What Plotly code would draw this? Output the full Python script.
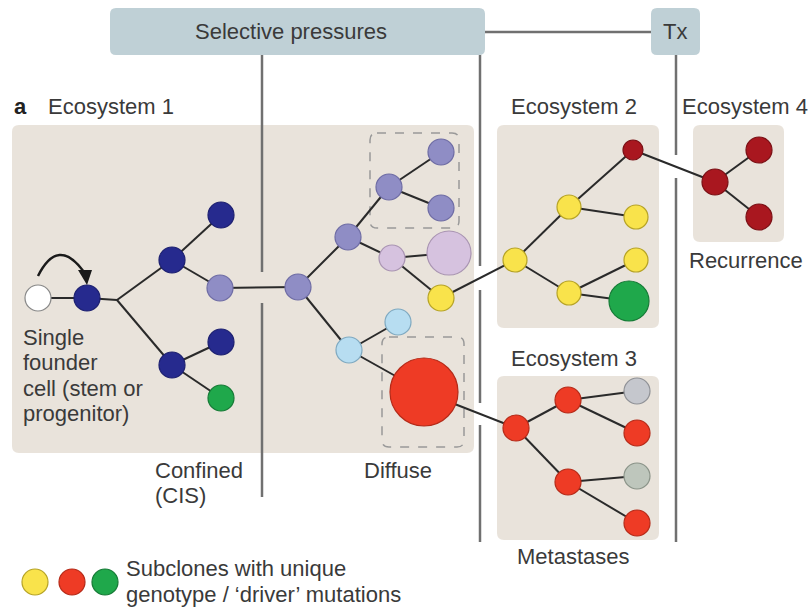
import plotly.graph_objects as go

# ---------------- data ----------------
# nodes: (x, y, radius, fill colour key)
node_x = [38, 87, 172, 221, 220, 172, 221, 221,
          298, 348, 389, 441, 441, 392, 449, 441, 349, 398, 424,
          515, 569, 636, 636, 569, 629, 633,
          715, 759, 759,
          516, 568, 637, 637, 568, 637, 637]
node_y = [298, 298, 260, 215, 288, 365, 342, 398,
          287, 237, 187, 152, 208, 258, 253, 298, 350, 322, 392,
          260, 207, 217, 260, 293, 301, 150,
          182, 150, 217,
          428, 400, 391, 433, 482, 476, 523]
node_r = [13, 13, 13, 13, 13, 13, 13, 13,
          13, 13, 13, 13, 13, 13, 22, 13, 13, 13, 34,
          12, 12, 12, 12, 12, 20, 10,
          13, 13, 13,
          13, 13, 13, 13, 13, 13, 13]
node_c = ["white", "navy", "navy", "navy", "purple", "navy", "navy", "green",
          "purple", "purple", "purple", "purple", "purple", "lilac", "lilac", "yellow", "lblue", "lblue", "red",
          "yellow", "yellow", "yellow", "yellow", "yellow", "green", "dred",
          "dred", "dred", "dred",
          "red", "red", "grey", "red", "red", "greygreen", "red"]

# edges as index pairs into node list
branch_pt = (117, 300)
edges = [(0, 1), (2, 3), (2, 4), (5, 6), (5, 7), (4, 8),
         (8, 9), (9, 10), (10, 11), (10, 12), (9, 13), (13, 14), (13, 15),
         (8, 16), (16, 17), (16, 18),
         (15, 19), (19, 20), (20, 25), (20, 21), (19, 23), (23, 22), (23, 24),
         (25, 26), (26, 27), (26, 28),
         (18, 29), (29, 30), (30, 31), (30, 32), (29, 33), (33, 34), (33, 35)]

colors = {"white": "#ffffff", "navy": "#262a8e", "purple": "#8f8dc5",
          "lilac": "#d6c2df", "yellow": "#f9e34b", "lblue": "#b7ddf1",
          "red": "#ee3b25", "dred": "#a9171f", "green": "#1fa84b",
          "grey": "#c5c7cd", "greygreen": "#bec6bc"}
outline = {"white": "#888888", "navy": "#1d2070", "purple": "#6e6ca4",
           "lilac": "#a994b2", "yellow": "#b6a326", "lblue": "#7fa9c0",
           "red": "#b52a18", "dred": "#7a1015", "green": "#167a36",
           "grey": "#8f9196", "greygreen": "#8a9388"}

legend_colors = ["yellow", "red", "green"]

# ---------------- figure ----------------
fig = go.Figure()

def rrect(x0, y0, x1, y1, r):
    return (f"M{x0+r},{y0} L{x1-r},{y0} Q{x1},{y0} {x1},{y0+r} "
            f"L{x1},{y1-r} Q{x1},{y1} {x1-r},{y1} L{x0+r},{y1} "
            f"Q{x0},{y1} {x0},{y1-r} L{x0},{y0+r} Q{x0},{y0} {x0+r},{y0} Z")

shapes = []
beige = "#e9e3db"
boxc = "#bfd0d6"
for (x0, y0, x1, y1) in [(12, 125, 474, 453), (497, 125, 659, 328),
                         (497, 376, 659, 540), (693, 125, 784, 242)]:
    shapes.append(dict(type="path", path=rrect(x0, y0, x1, y1, 7),
                       fillcolor=beige, line=dict(width=0), layer="below"))
for (x0, y0, x1, y1) in [(110, 8, 485, 55), (651, 8, 700, 55)]:
    shapes.append(dict(type="path", path=rrect(x0, y0, x1, y1, 6),
                       fillcolor=boxc, line=dict(width=0), layer="below"))
# dashed boxes
for (x0, y0, x1, y1) in [(370, 133, 459, 228), (382, 337, 464, 447)]:
    shapes.append(dict(type="path", path=rrect(x0, y0, x1, y1, 7),
                       fillcolor="rgba(0,0,0,0)",
                       line=dict(color="#999999", width=1.5, dash="dash"), layer="below"))
# grey timeline lines
gl = dict(color="#707070", width=2.5)
for seg in [(485, 32, 651, 32),
            (262, 55, 262, 272), (262, 303, 262, 497),
            (480, 55, 480, 266), (480, 290, 480, 403), (480, 425, 480, 542),
            (676, 55, 676, 155), (676, 178, 676, 542)]:
    shapes.append(dict(type="line", x0=seg[0], y0=seg[1], x1=seg[2], y1=seg[3],
                       line=gl, layer="below"))
# curved arrow
shapes.append(dict(type="path", path="M38,276 Q58,236 84,272",
                   line=dict(color="#1a1a1a", width=2.5)))
shapes.append(dict(type="path", path="M78,270 L92,270 L87,285 Z",
                   fillcolor="#1a1a1a", line=dict(width=0)))

# edges
ex, ey = [], []
for (a, b) in edges:
    ex += [node_x[a], node_x[b], None]
    ey += [node_y[a], node_y[b], None]
# founder -> branch point -> two daughters
ex += [node_x[1], branch_pt[0], None, branch_pt[0], node_x[2], None, branch_pt[0], node_x[5], None]
ey += [node_y[1], branch_pt[1], None, branch_pt[1], node_y[2], None, branch_pt[1], node_y[5], None]
fig.add_trace(go.Scatter(x=ex, y=ey, mode="lines",
                         line=dict(color="#2a2a2a", width=2), hoverinfo="skip"))

# nodes
fig.add_trace(go.Scatter(
    x=node_x, y=node_y, mode="markers",
    marker=dict(size=[2 * r for r in node_r], opacity=1,
                color=[colors[c] for c in node_c],
                line=dict(color=[outline[c] for c in node_c], width=1.2)),
    hoverinfo="skip"))

# legend circles
fig.add_trace(go.Scatter(
    x=[35, 72, 105], y=[582, 582, 582], mode="markers",
    marker=dict(size=26, opacity=1, color=[colors[c] for c in legend_colors],
                line=dict(color=[outline[c] for c in legend_colors], width=1.2)),
    hoverinfo="skip"))

FONT = "Liberation Sans, Arial, sans-serif"
tc = "#3a3a3a"

def txt(x, y, s, size=22, anchor="center", color=tc):
    fig.add_annotation(x=x, y=y, text=s, showarrow=False, xanchor=anchor,
                       yanchor="middle", font=dict(family=FONT, size=size, color=color))

txt(291, 31, "Selective pressures")
txt(675, 31, "Tx")
txt(12, 106, "<b>a</b>", anchor="left", color="#222")
txt(46, 106, "Ecosystem 1", anchor="left")
txt(574, 106, "Ecosystem 2")
txt(745, 106, "Ecosystem 4")
txt(746, 260, "Recurrence")
txt(574, 358, "Ecosystem 3")
txt(573, 556, "Metastases")
txt(153, 470, "Confined", anchor="left")
txt(153, 495, "(CIS)", anchor="left")
txt(398, 470, "Diffuse")
for i, s in enumerate(["Single", "founder", "cell (stem or", "progenitor)"]):
    txt(21, 337 + 25.5 * i, s, anchor="left")
txt(124, 568, "Subclones with unique", anchor="left")
txt(124, 594, "genotype / \u2018driver\u2019 mutations", anchor="left")

fig.update_layout(
    width=812, height=610, margin=dict(l=0, r=0, t=0, b=0),
    paper_bgcolor="white", plot_bgcolor="white", showlegend=False,
    hovermode=False, shapes=shapes,
    xaxis=dict(range=[0, 812], visible=False, fixedrange=True),
    yaxis=dict(range=[610, 0], visible=False, fixedrange=True),
)
# remove the default 8px page margin so the figure fills the window exactly
fig.write_html("out.html",
               config={"displayModeBar": False, "staticPlot": True},
               post_script="document.body.style.margin='0';document.body.style.overflow='hidden';")
